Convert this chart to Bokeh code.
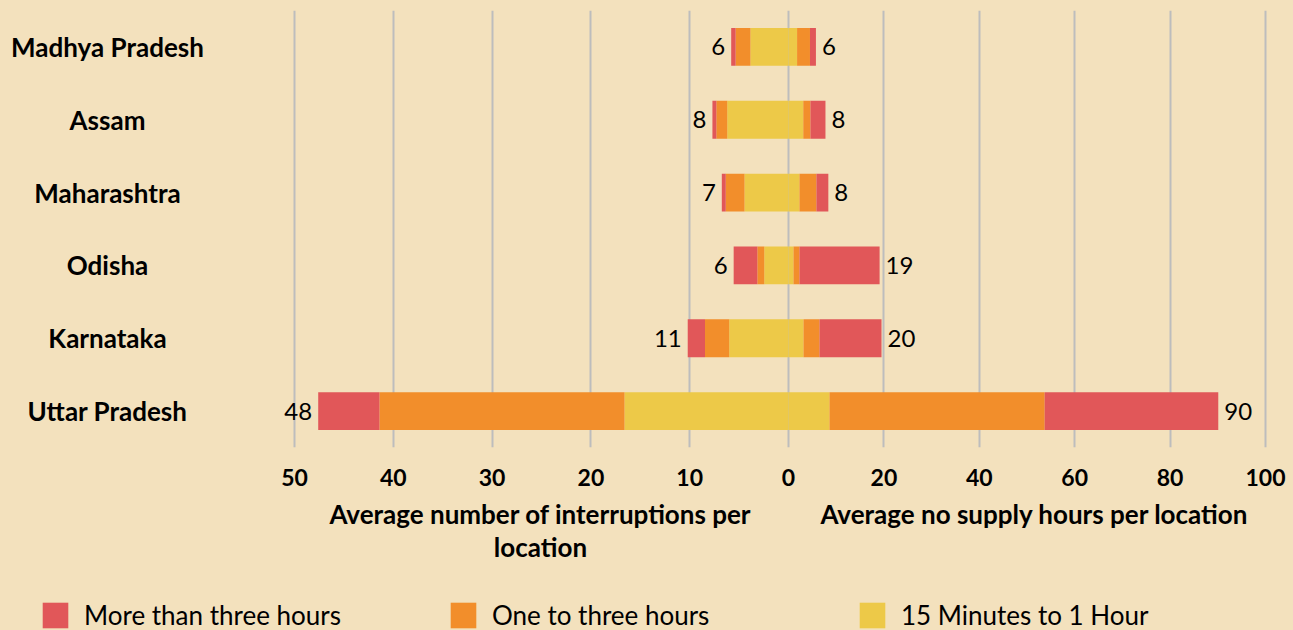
from bokeh.plotting import figure
from bokeh.models import (ColumnDataSource, Range1d, FactorRange, FixedTicker,
                          CustomJSTickFormatter, Legend, LegendItem)
from bokeh.layouts import column, row
from bokeh.core.properties import value
from bokeh.embed import file_html
from bokeh.resources import INLINE

# ---------------- data ----------------
states = ["Madhya Pradesh", "Assam", "Maharashtra", "Odisha", "Karnataka", "Uttar Pradesh"]
series_names = ["More than three hours", "One to three hours", "15 Minutes to 1 Hour"]

# Average number of interruptions per location (left panel)
int_15m_1h = [3.85, 6.2, 4.45, 2.45, 6.0, 16.6]
int_1_3h = [1.5, 1.1, 1.9, 0.7, 2.45, 24.8]
int_gt3h = [0.45, 0.4, 0.4, 2.4, 1.75, 6.2]
int_labels = ["6", "8", "7", "6", "11", "48"]

# Average no supply hours per location (right panel)
hrs_15m_1h = [1.8, 3.1, 2.3, 1.05, 3.15, 8.6]
hrs_1_3h = [2.7, 1.5, 3.55, 1.25, 3.35, 45.1]
hrs_gt3h = [1.25, 3.15, 2.5, 16.8, 13.0, 36.4]
hrs_labels = ["6", "8", "8", "19", "20", "90"]

left_ticks = [50, 40, 30, 20, 10]
right_ticks = [0, 20, 40, 60, 80, 100]
left_max = 50
right_max = 100

left_title = "Average number of interruptions per\nlocation"
right_title = "Average no supply hours per location"

# ---------------- style / layout ----------------
BG = "#F3E1BD"
RED, ORANGE, YELLOW = "#E15759", "#F28E2B", "#EDC948"
GRID = "#BDBDBD"
FONT = "Lato"

PAGE_W, PAGE_H = 1293, 630
LAB_W = 280            # category-label column; main frame starts here
X_LMAX = 294           # screen x of left-axis maximum (50)
X_ZERO = 788           # screen x of the shared zero
X_RMAX = 1265          # screen x of right-axis maximum (100)
TOP = 10
FRAME_H = 437
BOTTOM = 50
MAIN_H = TOP + FRAME_H + BOTTOM
MAIN_W = PAGE_W - LAB_W
FOOT_H = PAGE_H - MAIN_H

factors = states[::-1]


def style(fig):
    fig.background_fill_color = None
    fig.border_fill_color = None
    fig.outline_line_color = None
    fig.styles = {"background-color": BG}


# ---- category label column ----
lab = figure(width=LAB_W, height=MAIN_H, x_range=Range1d(0, LAB_W),
             y_range=FactorRange(*factors), x_axis_location=None, y_axis_location=None,
             output_backend="svg", toolbar_location=None,
             min_border_left=0, min_border_right=0, min_border_top=TOP, min_border_bottom=BOTTOM)
style(lab)
lab.grid.visible = False
lab.text(x=[107] * len(states), y=states, text=states, text_align="center",
         text_baseline="middle", text_font=value(FONT), text_font_style="bold",
         text_font_size="26px", text_color="black")

# ---- main chart: two panels sharing one frame, each with its own x scale ----
lpx = (X_ZERO - X_LMAX) / left_max     # pixels per left unit
rpx = (X_RMAX - X_ZERO) / right_max    # pixels per right unit
k = lpx / rpx                          # right units per left unit on screen
x_frame0, x_frame1 = LAB_W, PAGE_W

p = figure(width=MAIN_W, height=MAIN_H,
           x_range=Range1d(-(X_ZERO - x_frame0) / rpx, (x_frame1 - X_ZERO) / rpx),
           y_range=FactorRange(*factors), y_axis_location=None,
           output_backend="svg", toolbar_location=None,
           min_border_left=0, min_border_right=0,
           min_border_top=TOP, min_border_bottom=BOTTOM)
p.extra_x_ranges = {"left": Range1d((X_ZERO - x_frame0) / lpx, -(x_frame1 - X_ZERO) / lpx)}
style(p)

ticker = FixedTicker(ticks=[-v * k for v in left_ticks] + right_ticks)
p.xaxis.ticker = ticker
p.xaxis.formatter = CustomJSTickFormatter(args=dict(k=k), code="""
    return tick < 0 ? String(Math.round(-tick / k)) : String(Math.round(tick));
""")
p.xaxis.axis_line_color = None
p.xaxis.major_tick_line_color = None
p.xaxis.minor_tick_line_color = None
p.xaxis.major_tick_out = 0
p.xaxis.minor_tick_out = 0
p.xaxis.major_label_standoff = 21
p.xaxis.major_label_text_font = FONT
p.xaxis.major_label_text_font_style = "bold"
p.xaxis.major_label_text_font_size = "23px"
p.xaxis.major_label_text_color = "black"

p.xgrid.ticker = ticker
p.xgrid.grid_line_color = GRID
p.xgrid.grid_line_width = 2
p.ygrid.visible = False

src_l = ColumnDataSource(dict(state=states, a=int_15m_1h, b=int_1_3h, c=int_gt3h,
                              tot=[a + b + c for a, b, c in zip(int_15m_1h, int_1_3h, int_gt3h)],
                              txt=int_labels))
src_r = ColumnDataSource(dict(state=states, a=hrs_15m_1h, b=hrs_1_3h, c=hrs_gt3h,
                              tot=[a + b + c for a, b, c in zip(hrs_15m_1h, hrs_1_3h, hrs_gt3h)],
                              txt=hrs_labels))

p.hbar_stack(["a", "b", "c"], y="state", height=0.52, fill_color=[YELLOW, ORANGE, RED],
             line_color=None, source=src_l, x_range_name="left")
p.hbar_stack(["a", "b", "c"], y="state", height=0.52, fill_color=[YELLOW, ORANGE, RED],
             line_color=None, source=src_r)

p.text(x="tot", y="state", text="txt", source=src_l, x_range_name="left",
       text_align="right", text_baseline="middle", x_offset=-6,
       text_font=value(FONT), text_font_size="24px", text_color="black")
p.text(x="tot", y="state", text="txt", source=src_r,
       text_align="left", text_baseline="middle", x_offset=6,
       text_font=value(FONT), text_font_size="24px", text_color="black")

# ---- footer: axis titles and legend ----
foot = figure(width=PAGE_W, height=FOOT_H, x_range=Range1d(0, PAGE_W),
              y_range=Range1d(0, FOOT_H), x_axis_location=None, y_axis_location=None,
              output_backend="svg", toolbar_location=None, min_border=0)
style(foot)
foot.grid.visible = False
foot.text(x=[540, 1034], y=[FOOT_H, FOOT_H], text=[left_title, right_title],
          text_align="center", text_baseline="top", text_line_height=1.06,
          text_font=value(FONT), text_font_style="bold", text_font_size="26px",
          text_color="black")

legend_x = [39, 447, 856]
for name, col, lx in zip(series_names, [RED, ORANGE, YELLOW], legend_x):
    # legend proxy placed below the visible footer area
    r = foot.hbar(y=[-FOOT_H], right=[1], height=1, fill_color=col, line_color=None)
    leg = Legend(items=[LegendItem(label=name, renderers=[r])], location=(lx, -1),
                 glyph_width=32, glyph_height=32, label_standoff=13, padding=0, margin=0,
                 border_line_color=None, background_fill_alpha=0,
                 label_text_font=FONT, label_text_font_size="26px", label_text_color="black")
    foot.add_layout(leg)

layout = column(row(lab, p, styles={"background-color": BG}), foot,
                styles={"background-color": BG})

open("out.html", "w").write(file_html(layout, INLINE))
